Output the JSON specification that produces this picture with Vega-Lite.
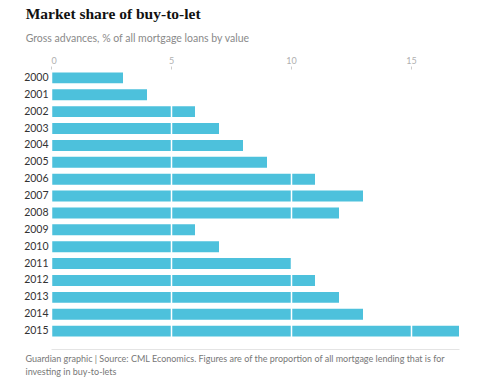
{
  "$schema": "https://vega.github.io/schema/vega-lite/v6.json",
  "width": 408,
  "height": 271,
  "padding": {"left": 23, "top": 7, "right": 10, "bottom": 5},
  "background": "white",
  "title": {
    "text": "Market share of buy-to-let",
    "subtitle": "Gross advances, % of all mortgage loans by value",
    "anchor": "start",
    "frame": "bounds",
    "font": "Liberation Serif",
    "fontSize": 15.5,
    "fontWeight": "bold",
    "color": "#111111",
    "subtitleFont": "Lato",
    "subtitleFontSize": 10.5,
    "subtitleColor": "#8a8a8a",
    "subtitlePadding": 11,
    "offset": 12,
    "dx": 2
  },
  "data": {
    "values": [
      {"year": "2000", "share": 3},
      {"year": "2001", "share": 4},
      {"year": "2002", "share": 6},
      {"year": "2003", "share": 7},
      {"year": "2004", "share": 8},
      {"year": "2005", "share": 9},
      {"year": "2006", "share": 11},
      {"year": "2007", "share": 13},
      {"year": "2008", "share": 12},
      {"year": "2009", "share": 6},
      {"year": "2010", "share": 7},
      {"year": "2011", "share": 10},
      {"year": "2012", "share": 11},
      {"year": "2013", "share": 12},
      {"year": "2014", "share": 13},
      {"year": "2015", "share": 17}
    ]
  },
  "config": {
    "view": {"stroke": null},
    "axis": {"labelFont": "Lato", "titleFont": "Lato"}
  },
  "resolve": {"axis": {"x": "independent"}},
  "layer": [
    {
      "mark": {"type": "bar", "color": "#4dc1dc"},
      "encoding": {
        "y": {
          "field": "year",
          "type": "nominal",
          "sort": null,
          "title": null,
          "scale": {"paddingInner": 0.35, "paddingOuter": 0.2},
          "axis": {
            "domain": false,
            "ticks": false,
            "labelPadding": 3,
            "labelFontSize": 10.5,
            "labelColor": "#333333"
          }
        },
        "x": {
          "field": "share",
          "type": "quantitative",
          "title": null,
          "scale": {"domain": [0, 17], "nice": false},
          "axis": {
            "orient": "top",
            "values": [0, 5, 10, 15],
            "domain": false,
            "tickSize": 3,
            "tickColor": "#cccccc",
            "labelColor": "#b0b0b0",
            "labelFontSize": 9,
            "labelPadding": 1,
            "grid": true,
            "gridColor": "#ffffff",
            "gridWidth": 1.5,
            "zindex": 1
          }
        }
      }
    },
    {
      "mark": {"type": "bar", "opacity": 0},
      "encoding": {
        "y": {"field": "year", "type": "nominal", "sort": null},
        "x": {
          "field": "share",
          "type": "quantitative",
          "title": null,
          "axis": {
            "orient": "bottom",
            "offset": 9,
            "labels": false,
            "ticks": false,
            "grid": false,
            "domainColor": "#e4e4e4",
            "title": ["Guardian graphic | Source: CML Economics. Figures are of the proportion of all mortgage lending that is for", "investing in buy-to-lets"],
            "titleFont": "Lato",
            "titleFontSize": 9,
            "titleFontWeight": "normal",
            "titleColor": "#777777",
            "titleAnchor": "start",
            "titleAlign": "left",
            "titleBaseline": "top",
            "titleX": -26,
            "titleY": 5,
            "titleLineHeight": 13
          }
        }
      }
    }
  ]
}
